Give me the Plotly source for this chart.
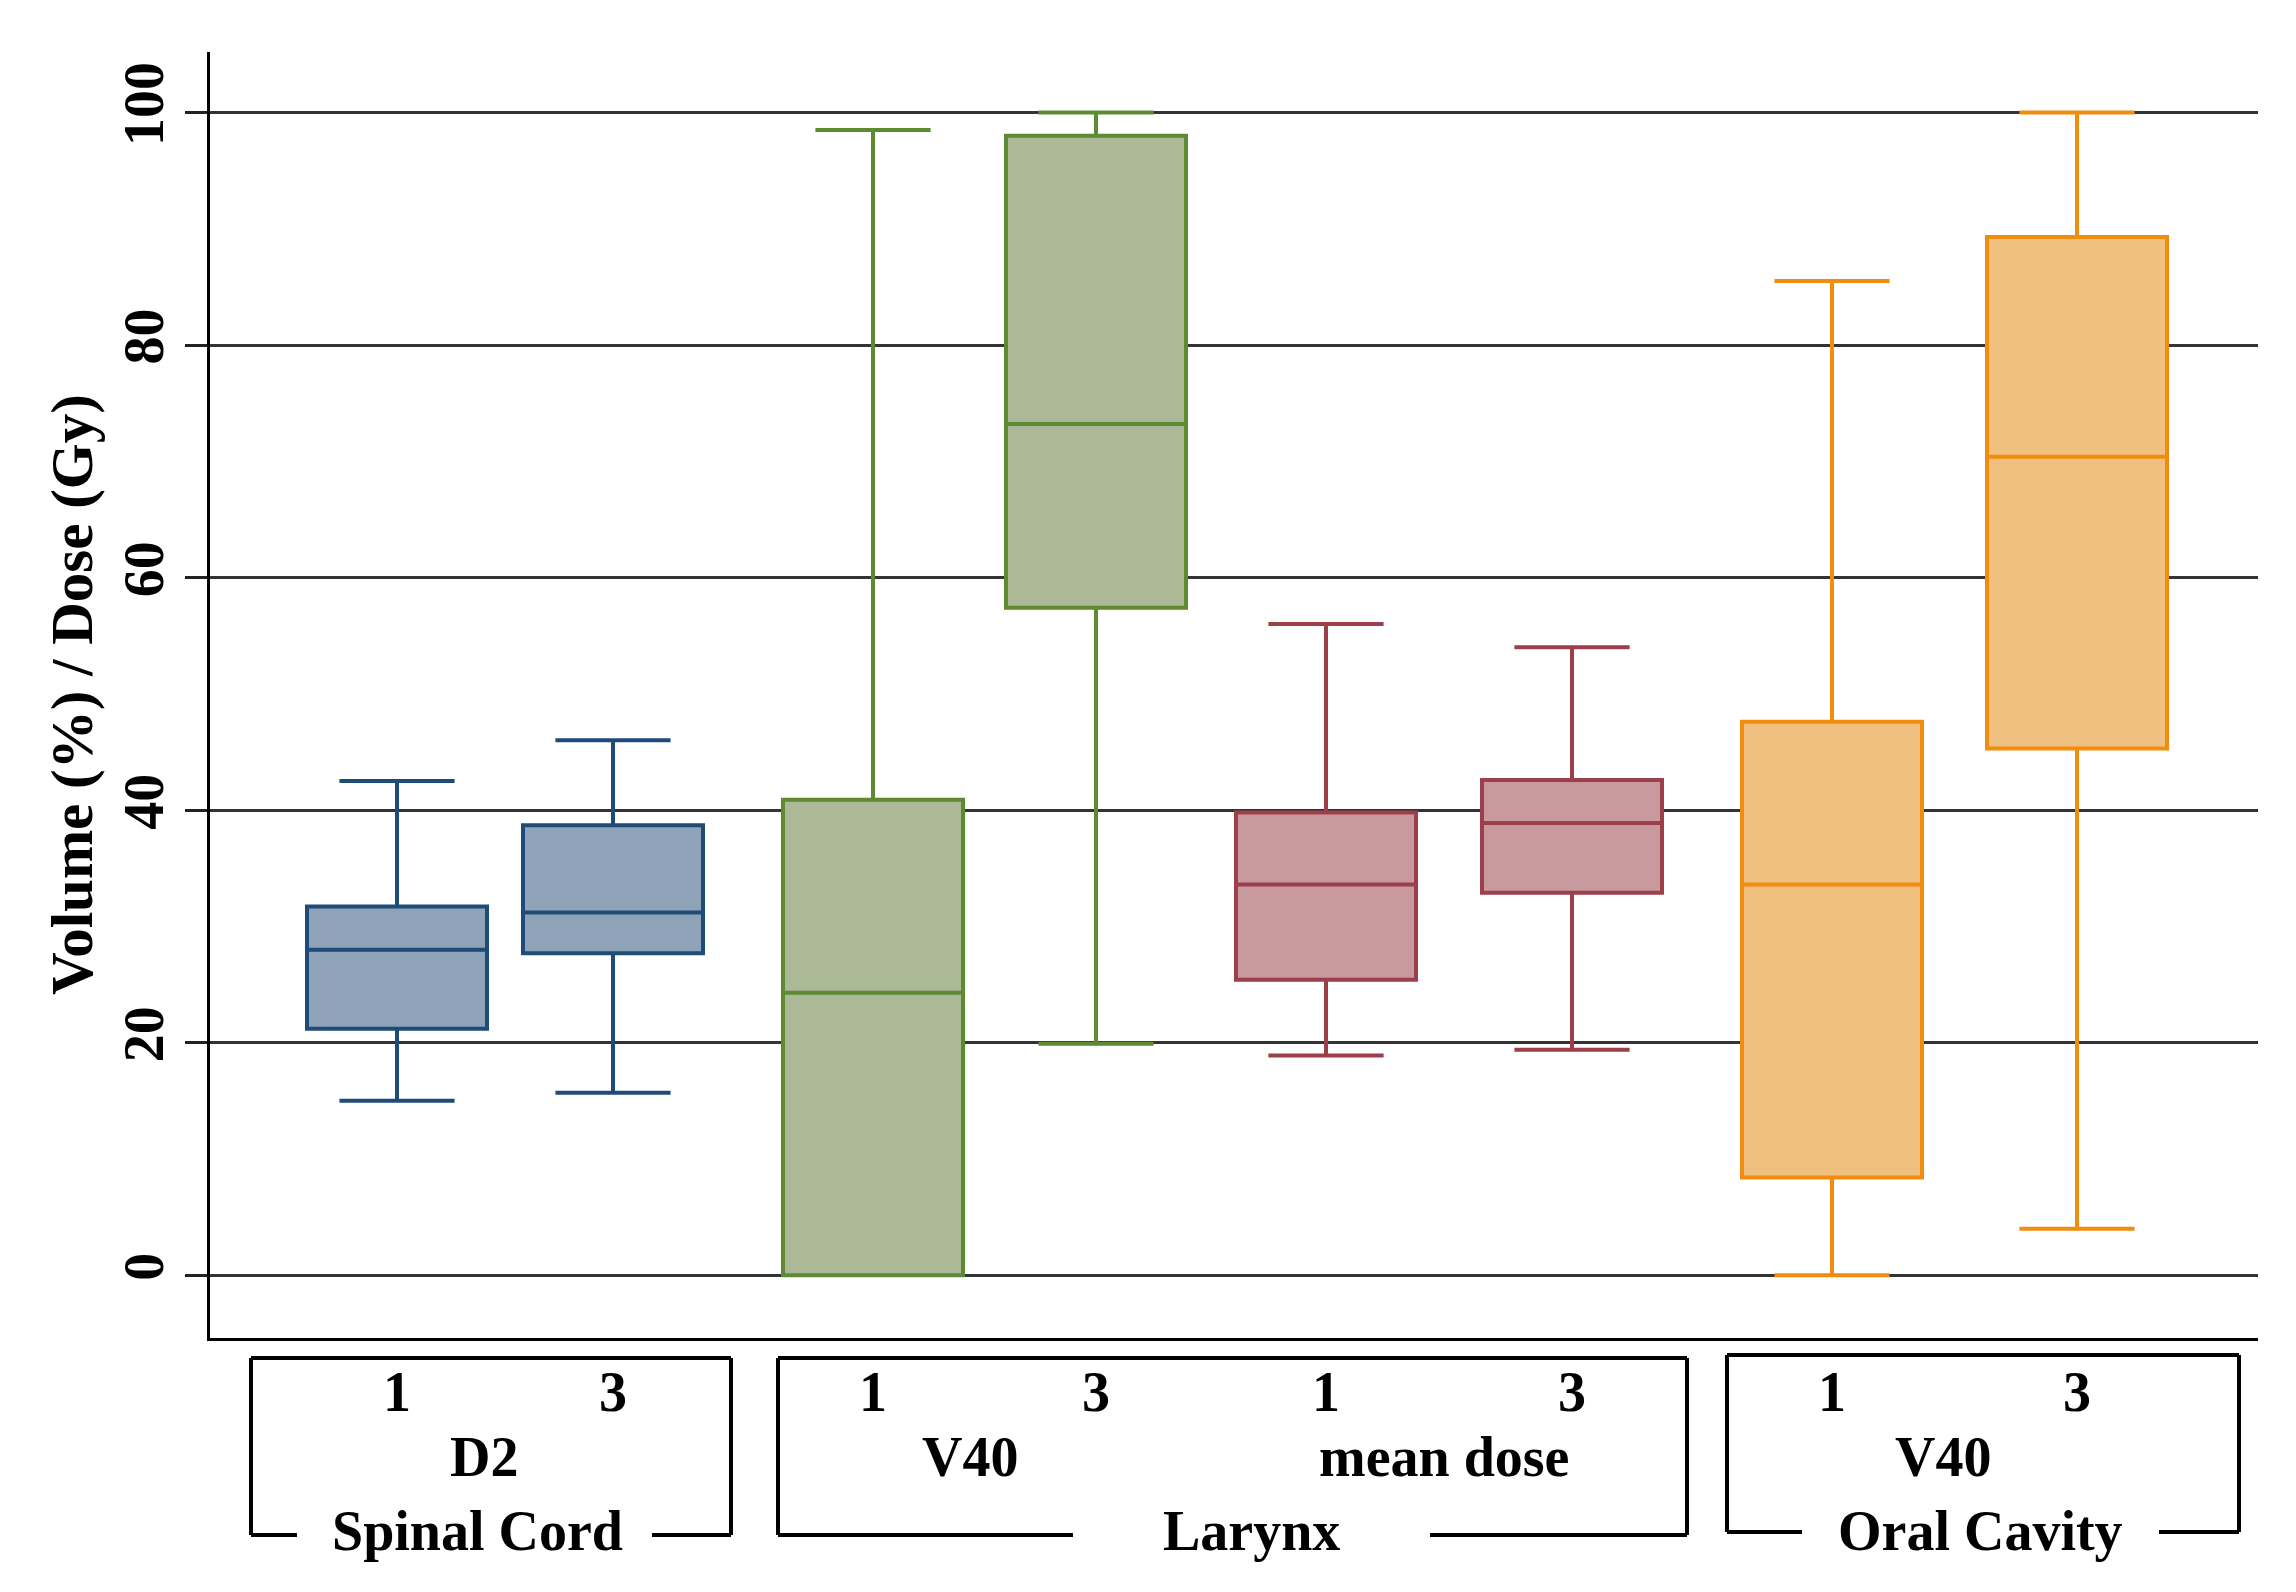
import plotly.graph_objects as go

# ---------------- data ----------------
organs = ["Spinal Cord", "Spinal Cord", "Larynx", "Larynx", "Larynx", "Larynx", "Oral Cavity", "Oral Cavity"]
metrics = ["D2", "D2", "V40", "V40", "mean dose", "mean dose", "V40", "V40"]
timepoints = ["1", "3", "1", "3", "1", "3", "1", "3"]
lower_whisker = [15.0, 15.7, 0.0, 19.9, 18.9, 19.4, 0.0, 4.0]
q1 = [21.2, 27.7, 0.0, 57.4, 25.4, 32.9, 8.4, 45.3]
median = [28.0, 31.2, 24.3, 73.2, 33.6, 38.9, 33.6, 70.4]
q3 = [31.7, 38.7, 40.9, 98.0, 39.8, 42.6, 47.6, 89.3]
upper_whisker = [42.5, 46.0, 98.5, 100.0, 56.0, 54.0, 85.5, 100.0]
y_ticks = [0, 20, 40, 60, 80, 100]
y_title = "Volume (%) / Dose (Gy)"

# ---------------- style / layout ----------------
W, H = 2296, 1592
L, R, T, B = 202, 46, 44, 262
PW, PH = W - L - R, H - T - B
x_pos = [187, 403, 663, 886, 1116, 1362, 1622, 1867]  # box centres (pixel units on x axis)
line_colors = ["#1f4b78", "#1f4b78", "#5e8a34", "#5e8a34", "#9c3f4b", "#9c3f4b", "#f28c0c", "#f28c0c"]
fill_colors = ["#8fa3b8", "#8fa3b8", "#abb996", "#abb996", "#c89a9e", "#c89a9e", "#f0c080", "#f0c080"]
FONT = "Liberation Serif"


def px(xp):
    return (xp - L) / PW


def py(yp):
    return (T + PH - yp) / PH


fig = go.Figure()
for i in range(len(q1)):
    fig.add_trace(go.Box(
        x=[x_pos[i]], q1=[q1[i]], median=[median[i]], q3=[q3[i]],
        lowerfence=[lower_whisker[i]], upperfence=[upper_whisker[i]],
        width=180, whiskerwidth=0.64, boxpoints=False,
        fillcolor=fill_colors[i], line=dict(color=line_colors[i], width=4),
        name=f"{organs[i]} {metrics[i]} {timepoints[i]}", showlegend=False,
    ))

shapes = []
lw = 4


def bracket(x0, x1, y0, y1, g0, g1):
    segs = [((x0, y0), (x1, y0)), ((x0, y0), (x0, y1)), ((x1, y0), (x1, y1)),
            ((x0, y1), (g0, y1)), ((g1, y1), (x1, y1))]
    for (a, b), (c, d) in segs:
        shapes.append(dict(type="line", xref="paper", yref="paper",
                           x0=px(a), y0=py(b), x1=px(c), y1=py(d),
                           line=dict(color="black", width=lw)))


bracket(243, 723, 1350, 1527, 289, 644)
bracket(770, 1679, 1350, 1527, 1065, 1422)
bracket(1719, 2231, 1347, 1524, 1794, 2151)

annotations = []
bold = dict(family=FONT, size=56, color="black", weight="bold")
for i in range(len(timepoints)):
    annotations.append(dict(x=x_pos[i], xref="x", y=py(1384), yref="paper",
                            text=timepoints[i], showarrow=False, font=bold,
                            xanchor="center", yanchor="middle"))

# sub-group (metric) labels, one per pair of boxes
metric_x_px = [476, 962, 1436, 1935]
for k, j in enumerate(range(0, len(metrics), 2)):
    annotations.append(dict(x=px(metric_x_px[k]), xref="paper", y=py(1449), yref="paper",
                            text=metrics[j], showarrow=False, font=bold,
                            xanchor="center", yanchor="middle"))

group_names = ["Spinal Cord", "Larynx", "Oral Cavity"]
group_x_px = [469, 1243, 1972]
for k, g in enumerate(group_names):
    annotations.append(dict(x=px(group_x_px[k]), xref="paper", y=py(1523), yref="paper",
                            text=g, showarrow=False, font=bold,
                            xanchor="center", yanchor="middle"))

annotations.append(dict(x=px(64), xref="paper", y=py(687), yref="paper",
                        text=y_title, textangle=-90, showarrow=False,
                        font=dict(family=FONT, size=59, color="black", weight="bold"),
                        xanchor="center", yanchor="middle"))

fig.update_layout(
    width=W, height=H,
    margin=dict(l=L, r=R, t=T, b=B),
    paper_bgcolor="white", plot_bgcolor="white",
    shapes=shapes, annotations=annotations,
    xaxis=dict(range=[0, PW], showticklabels=False, ticks="", showgrid=False,
               zeroline=False, showline=True, linecolor="black", linewidth=3),
    yaxis=dict(range=[-5.4, 105.2], tickvals=y_ticks, ticktext=[str(v) for v in y_ticks],
               tickangle=-90, ticks="outside", ticklen=22, tickwidth=2.5, tickcolor="#222",
               tickfont=dict(family=FONT, size=56, color="black", weight="bold"),
               showgrid=True, gridcolor="#333333", gridwidth=2.5,
               zeroline=False, showline=True, linecolor="black", linewidth=3),
)

fig.write_html("out.html")
